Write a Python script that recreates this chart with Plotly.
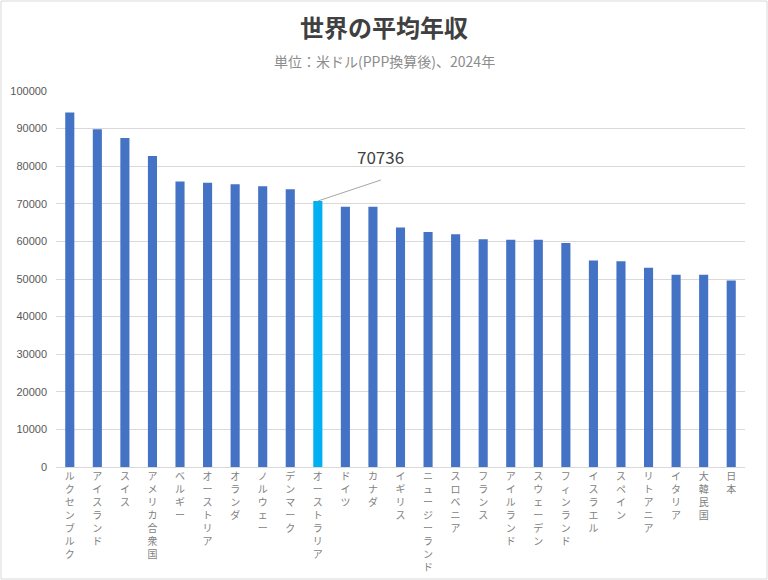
import plotly.graph_objects as go

countries = ["ルクセンブルク", "アイスランド", "スイス", "アメリカ合衆国", "ベルギー", "オーストリア",
             "オランダ", "ノルウェー", "デンマーク", "オーストラリア", "ドイツ", "カナダ", "イギリス",
             "ニュージーランド", "スロベニア", "フランス", "アイルランド", "スウェーデン", "フィンランド",
             "イスラエル", "スペイン", "リトアニア", "イタリア", "大韓民国", "日本"]
salaries = [94300, 89800, 87500, 82700, 75900, 75600, 75200, 74700, 73900, 70736, 69200, 69200, 63700,
            62500, 61900, 60600, 60450, 60450, 59600, 54900, 54700, 53000, 51100, 51100, 49600]
highlight = "オーストラリア"
y_ticks = list(range(0, 100001, 10000))

title_text = "世界の平均年収"
subtitle_text = "単位：米ドル(PPP換算後)、2024年"

FONT = "Noto Sans CJK JP"
colors = ["#00B0F0" if c == highlight else "#4472C4" for c in countries]
tick_text = ["<br>".join(list(c)) for c in countries]

fig = go.Figure()
fig.add_trace(go.Bar(x=countries, y=salaries, marker=dict(color=colors, line=dict(width=0)),
                     hoverinfo="x+y"))

hi_idx = countries.index(highlight)
fig.add_annotation(x=countries[hi_idx], y=salaries[hi_idx], xref="x", yref="y",
                   text=str(salaries[hi_idx]), showarrow=True, arrowhead=0, arrowwidth=1,
                   arrowcolor="#A6A6A6", ax=63, ay=-21, yanchor="bottom", xanchor="center",
                   borderpad=10, font=dict(family=FONT, size=17, color="#404040"))

fig.add_annotation(text=subtitle_text, xref="paper", yref="paper", x=(384 - 56) / 689,
                   y=(467 - 61) / 376, showarrow=False, xanchor="center", yanchor="middle",
                   font=dict(family=FONT, size=14, color="#8C8C8C"))

# outer chart border
fig.add_shape(type="rect", xref="paper", yref="paper",
              x0=(1 - 56) / 689, x1=(767 - 56) / 689, y0=(467 - 579) / 376, y1=(467 - 1) / 376,
              line=dict(color="#D9D9D9", width=1), fillcolor="rgba(0,0,0,0)", layer="below")

fig.update_layout(
    width=768, height=580,
    margin=dict(l=56, r=23, t=91, b=113, autoexpand=False),
    paper_bgcolor="white", plot_bgcolor="white",
    bargap=0.67, showlegend=False,
    title=dict(text=f"<b>{title_text}</b>", xref="container", x=0.5, xanchor="center",
               yref="container", y=1 - 29 / 580, yanchor="middle",
               font=dict(family=FONT, size=24, color="#404040")),
    font=dict(family=FONT, color="#595959"),
)
fig.update_xaxes(tickmode="array", tickvals=countries, ticktext=tick_text, tickangle=0,
                 tickfont=dict(family=FONT, size=10, color="#7F7F7F"), showline=True,
                 linecolor="#D9D9D9", linewidth=1, ticks="", showgrid=False, automargin=False)
fig.update_yaxes(range=[0, 100000], tickvals=y_ticks, ticktext=[str(v) for v in y_ticks],
                 tickfont=dict(family="Liberation Sans", size=11, color="#595959"),
                 showgrid=True, gridcolor="#D9D9D9", gridwidth=1, zeroline=False,
                 showline=False, ticks="", ticklabelstandoff=8, automargin=False)

fig.write_html("out.html", config={"displayModeBar": False},
               post_script="document.body.style.margin='0';document.body.style.overflow='hidden';")
